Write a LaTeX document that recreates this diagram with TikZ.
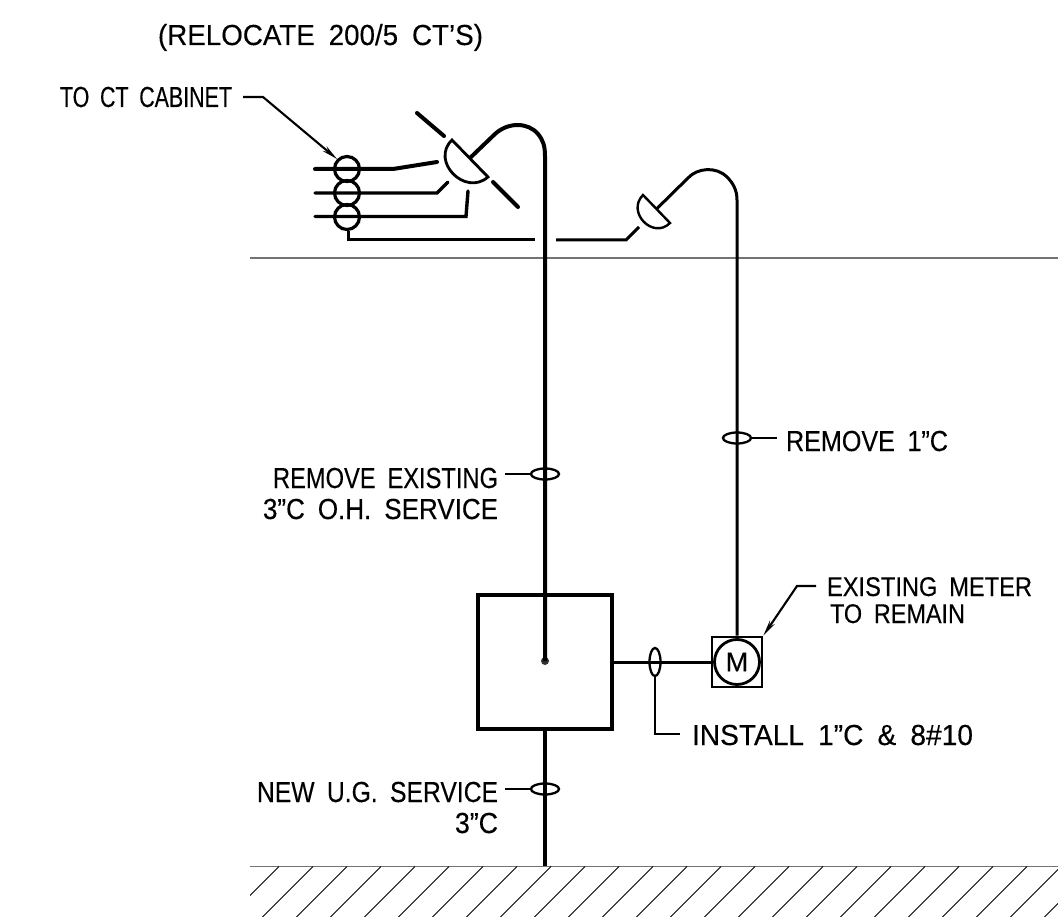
\documentclass[tikz,border=0pt]{standalone}
\usepackage{fontspec}
\usepackage{graphicx}
\setmainfont[WordSpace=1.8,FakeBold=0.25]{Liberation Sans}
\usetikzlibrary{arrows.meta,calc}
\newcommand{\fitw}[2]{\resizebox{#1}{\height}{#2}}
\tikzset{
  lbl/.style={inner sep=0pt,outer sep=0pt,anchor=base west,font=\fontsize{29pt}{31pt}\selectfont},
  lblsm/.style={lbl,font=\fontsize{27pt}{29pt}\selectfont},
  heavy/.style={line width=4pt,line join=round},
  medium/.style={line width=3pt,line join=miter},
  rule/.style={line width=1.1pt,draw=black!55},
  hatchl/.style={line width=0.9pt},
  leader/.style={line width=2.1pt},
  arrowl/.style={line width=2.1pt,-{Stealth[length=16pt,width=6pt]}},
  ctring/.style={circle,draw,line width=3.2pt,minimum size=25pt,inner sep=0pt},
  wireloop/.style={line width=2.3pt}
}
\begin{document}
\begin{tikzpicture}[x=1pt,y=-1pt]
\useasboundingbox (0,0) rectangle (1058,917);
% ground rules
\coordinate (gl0) at (250,258); \coordinate (gl1) at (1058,258);
\coordinate (gn0) at (250,866.5); \coordinate (gn1) at (1058,866.5);
\draw[rule] (gl0) -- (gl1);
\draw[rule] (gn0) -- (gn1);
\begin{scope}
\clip (250,866) rectangle (1058,917);
\foreach \k in {0,...,24} {
  \draw[hatchl] ({279+34*\k},866.5) -- ({279+34*\k-52},{866.5+52});
}
\end{scope}
% service
\node[draw,line width=4.2pt,minimum size=134pt,inner sep=0pt] (panel) at (545,662) {};
\node[circle,fill=black!80,inner sep=0pt,minimum size=8pt] (dot) at (545,661) {};
\coordinate (gnd) at (545,866);
\draw[heavy] (panel.south -| gnd) -- (gnd);
% weatherhead 1
\coordinate (h1a) at (452,140); \coordinate (h1b) at (488,177);
\coordinate (h1c) at (470,158);
\coordinate (h1d) at (417,113); \coordinate (h1e) at (444,136);
\coordinate (h1f) at (493,182); \coordinate (h1g) at (518,207);
\draw[line width=2.8pt,line join=miter] (h1a) -- (h1b) .. controls (465,197) and (430,161) .. cycle;
\draw[heavy,line cap=round] (h1d) -- (h1e);
\draw[heavy,line cap=round] (h1f) -- (h1g);
\draw[heavy] (h1c) -- (495,134) .. controls (508,122) and (528,122) .. (538,134) .. controls (543,140) and (545,146) .. (545,156) -- (dot.center);
% weatherhead 2
\coordinate (h2a) at (643,195); \coordinate (h2b) at (670,223);
\draw[line width=2.4pt,line join=miter] (h2a) -- (h2b) .. controls (653,240) and (626,212) .. cycle;
\coordinate (h2c) at (656.5,209);
\node[draw,line width=2.6pt,minimum size=50pt,inner sep=0pt] (meterbox) at (737,662) {};
\node[circle,draw,line width=2.8pt,minimum size=45pt,inner sep=0pt,font=\fontsize{27pt}{29pt}\selectfont] (meter) at (737,662) {M};
\draw[medium] (h2c) -- (688,178) .. controls (697,168) and (716,166) .. (727,177) .. controls (733,183) and (737,190) .. (737,200) -- (meterbox.north);
\draw[medium] (panel.east |- meterbox) -- (meterbox.west);
% CT rings
\node[ctring] (ct1) at (347,169) {};
\node[ctring] (ct2) at (347,193) {};
\node[ctring] (ct3) at (347,217) {};
\coordinate (a1) at (315,169); \coordinate (a2) at (315,193); \coordinate (a3) at (315,216.5);
\coordinate (b1) at (437,162); \coordinate (b2) at (448,182); \coordinate (b3) at (468,191);
\draw[heavy,line cap=round] (a1) -- (393,169) -- (b1);
\draw[medium,line cap=round,line width=3.4pt] (a2) -- (437,193) -- (b2);
\draw[medium,line cap=round,line width=3.4pt] (a3) -- (466,216.5) -- (b3);
\coordinate (w1) at (535,240); \coordinate (w2) at (556,240); \coordinate (w3) at (639,227);
\draw[medium] (ct3.south -| 348,0) -- (348,240) -- (w1);
\draw[medium] (w2) -- (626,240) -- (w3);
% labels
\node[lbl] (reloc) at (158,45) {\fitw{325pt}{(RELOCATE 200/5 CT’S)}};
\node[lbl] (toct) at (60,107) {\fitw{172pt}{TO CT CABINET}};
\coordinate (t1) at (243,97); \coordinate (t2) at (263,97);
\draw[arrowl] (t1) -- (t2) -- (ct1.north west);
\node[lbl] (rem1) at (786,451) {\fitw{162pt}{REMOVE 1”C}};
\node[lbl] (rem2) at (273,488) {\fitw{225pt}{REMOVE EXISTING}};
\node[lbl] (rem3) at (263,519) {\fitw{235pt}{3”C O.H. SERVICE}};
\node[lbl] (new1) at (257,802) {\fitw{241pt}{NEW U.G. SERVICE}};
\node[lbl] (new2) at (455,833) {\fitw{43pt}{3”C}};
\node[lblsm] (ex1) at (827,596) {\fitw{205pt}{EXISTING METER}};
\node[lblsm] (ex2) at (830,623) {\fitw{135pt}{TO REMAIN}};
\node[lbl] (inst) at (692,745) {\fitw{281pt}{INSTALL 1”C \& 8\#10}};
% wire loops
\foreach \n/\cx/\cy in {la/737/438,lb/545/474,lc/545/789} {
  \draw[wireloop] (\cx,\cy) ellipse [x radius=14pt,y radius=5.5pt];
  \coordinate (\n) at (\cx,\cy);
}
\draw[wireloop] (655,662) ellipse [x radius=5.5pt,y radius=14pt];
\coordinate (ld) at (655,676);
\draw[leader] ($(la)+(14,0)$) -- ($(la)+(40,0)$);
\draw[leader] ($(lb)+(-40,0)$) -- ($(lb)+(-13,0)$);
\draw[leader] ($(lc)+(-40,0)$) -- ($(lc)+(-13,0)$);
\coordinate (i1) at (655,734); \coordinate (i2) at (680,734);
\draw[leader] (ld) -- (i1) -- (i2);
\coordinate (e1) at (816,586); \coordinate (e2) at (797,586);
\draw[arrowl] (e1) -- (e2) -- (meterbox.north east);
\end{tikzpicture}
\end{document}
